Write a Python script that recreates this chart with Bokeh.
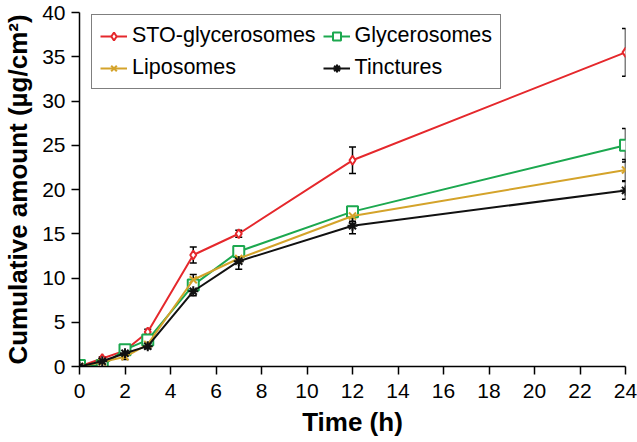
from bokeh.plotting import figure
from bokeh.models import ColumnDataSource, Whisker, TeeHead, Legend, LegendItem, Range1d, FixedTicker
from bokeh.embed import file_html
from bokeh.resources import INLINE

time_h = [0, 1, 2, 3, 5, 7, 12, 24]
sto = [0.0, 0.9, 1.8, 3.9, 12.6, 15.0, 23.3, 35.5]
sto_err = [0.0, 0.2, 0.2, 0.3, 0.9, 0.4, 1.5, 2.7]
glyc = [0.1, 0.1, 1.9, 3.0, 9.2, 13.0, 17.5, 25.0]
glyc_err = [0.0, 0.0, 0.2, 0.3, 0.5, 0.4, 0.5, 1.9]
lipo = [0.0, 0.5, 1.1, 2.5, 9.8, 12.2, 17.0, 22.2]
lipo_err = [0.0, 0.1, 0.3, 0.3, 0.6, 0.5, 0.6, 1.2]
tinc = [0.0, 0.6, 1.5, 2.3, 8.5, 11.9, 15.9, 19.9]
tinc_err = [0.0, 0.1, 0.2, 0.3, 0.5, 0.9, 0.9, 1.0]
x_ticks = [0, 2, 4, 6, 8, 10, 12, 14, 16, 18, 20, 22, 24]
y_ticks = [0, 5, 10, 15, 20, 25, 30, 35, 40]

FONT = "Liberation Sans"

p = figure(width=637, height=442, output_backend="svg", toolbar_location=None,
           x_range=Range1d(0, 24), y_range=Range1d(0, 40),
           min_border_left=76, min_border_right=12, min_border_top=12, min_border_bottom=76)
p.outline_line_color = None
p.grid.visible = False

series = [
    ("STO-glycerosomes", sto, sto_err, "#e5282c", "diamond", 9),
    ("Glycerosomes", glyc, glyc_err, "#1ca84f", "square", 11),
    ("Liposomes", lipo, lipo_err, "#d4a32a", "x", 10),
    ("Tinctures", tinc, tinc_err, "#111111", "asterisk", 10),
]

items = {}
for name, vals, err, color, marker, size in series:
    src = ColumnDataSource(dict(x=time_h, y=vals,
                                lo=[v - e for v, e in zip(vals, err)],
                                hi=[v + e for v, e in zip(vals, err)]))
    w = Whisker(source=src, base="x", upper="hi", lower="lo", line_color="black", line_width=1.5,
                upper_head=TeeHead(size=7, line_color="black", line_width=1.5),
                lower_head=TeeHead(size=7, line_color="black", line_width=1.5))
    p.add_layout(w)

for name, vals, err, color, marker, size in series:
    src = ColumnDataSource(dict(x=time_h, y=vals))
    ln = p.line("x", "y", source=src, line_color=color, line_width=2)
    fill = "white" if marker in ("diamond", "square") else color
    sc = p.scatter("x", "y", source=src, marker=marker, size=size, line_color=color,
                   fill_color=fill, line_width=2)
    items[name] = [ln, sc]

legend_order = ["STO-glycerosomes", "Liposomes", "Glycerosomes", "Tinctures"]
legend = Legend(items=[LegendItem(label=n, renderers=items[n]) for n in legend_order],
                ncols=2, location=(12, 277),
                label_text_font=FONT, label_text_font_size="21.5px", label_text_color="black",
                border_line_color="black", border_line_width=1.2,
                glyph_width=27, glyph_height=20, label_standoff=5, spacing=7,
                padding=8, margin=0, label_height=22)
p.add_layout(legend)

for ax in (p.xaxis, p.yaxis):
    ax.axis_line_color = "black"
    ax.axis_line_width = 1.5
    ax.major_tick_line_color = "black"
    ax.major_tick_line_width = 1.5
    ax.major_tick_out = 8
    ax.major_tick_in = 0
    ax.minor_tick_line_color = None
    ax.major_label_text_font = FONT
    ax.major_label_text_font_size = "21px"
    ax.major_label_text_color = "black"
    ax.axis_label_text_font = FONT
    ax.axis_label_text_font_style = "bold"
    ax.axis_label_text_font_size = "26px"
    ax.axis_label_text_color = "black"

p.xaxis.ticker = FixedTicker(ticks=x_ticks)
p.yaxis.ticker = FixedTicker(ticks=y_ticks)
p.xaxis.axis_label = "Time (h)"
p.yaxis.axis_label = "Cumulative amount (µg/cm²)"
p.xaxis.major_label_standoff = 9
p.yaxis.major_label_standoff = 6
p.xaxis.axis_label_standoff = 6
p.yaxis.axis_label_standoff = 6

open("out.html", "w").write(file_html(p, INLINE))
